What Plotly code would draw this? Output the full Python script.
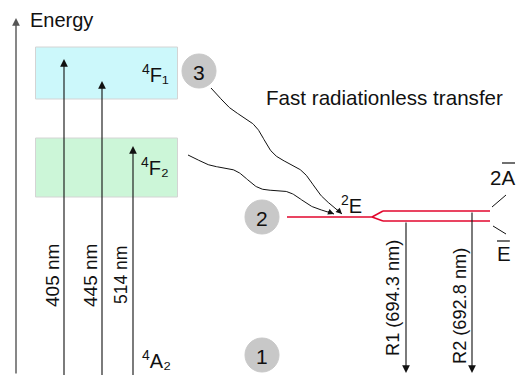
import numpy as np
import plotly.graph_objects as go

# ---- data (diagram coordinates in px-like units; y grows downward) ----
W, H = 516, 375
band_names = ["<sup>4</sup>F\u2081", "<sup>4</sup>F\u2082"]
band_x0 = [35.5, 35.5]
band_x1 = [177.5, 177.5]
band_y0 = [47, 138]
band_y1 = [99, 197]
band_fill = ["#ccf8fb", "#ccf6d8"]
band_label_x = [155, 155]
band_label_y = [73, 166]

pump_labels = ["405 nm", "445 nm", "514 nm"]
pump_x = [64, 102, 133]
pump_top = [59, 81, 146]
pump_label_x = [52, 90, 121]
pump_label_y = [276, 276, 275]
pump_font = [19, 19, 17.5]

level_nums = ["3", "2", "1"]
level_cx = [199, 262, 262]
level_cy = [71, 217, 355]

ground_label = "<sup>4</sup>A\u2082"
e_label = "<sup>2</sup>E"
e_y = 217
e_x0, e_fork, e_split, e_x1 = 287, 372, 383, 490
split_upper, split_lower = 211, 221

r_labels = ["R1 (694.3 nm)", "R2 (692.8 nm)"]
r_x = [406, 472]
r_top = [221, 211]
r_label_x = [393, 460]
r_label_y = [298, 306]

wave_start = [(211, 88), (188, 155)]
wave_end = [(342, 214), (334, 214)]

fig = go.Figure()
FONT = "Liberation Sans, Arial, sans-serif"

shapes = []
annotations = []

# level bands
for i in range(len(band_names)):
    shapes.append(dict(type="rect", x0=band_x0[i], x1=band_x1[i], y0=band_y0[i], y1=band_y1[i],
                       fillcolor=band_fill[i], line=dict(color="#d4d4d4", width=1), layer="below"))
    annotations.append(dict(x=band_label_x[i], y=band_label_y[i], text=band_names[i], showarrow=False,
                            font=dict(size=20, color="#111", family=FONT)))

# energy axis
annotations.append(dict(x=16, y=18, ax=16, ay=375, axref="x", ayref="y", xref="x", yref="y",
                        showarrow=True, arrowhead=2, arrowsize=1.1, arrowwidth=1.4, arrowcolor="#555", text=""))
annotations.append(dict(x=28, y=20, text="Energy", showarrow=False, xanchor="left",
                        font=dict(size=20, color="#111", family=FONT)))

# pump arrows
for i in range(len(pump_labels)):
    annotations.append(dict(x=pump_x[i], y=pump_top[i], ax=pump_x[i], ay=H + 2, axref="x", ayref="y",
                            showarrow=True, arrowhead=2, arrowsize=1.4, arrowwidth=1.1, arrowcolor="#111", text=""))
    annotations.append(dict(x=pump_label_x[i], y=pump_label_y[i], text=pump_labels[i], showarrow=False,
                            textangle=-90, font=dict(size=pump_font[i], color="#111", family=FONT)))

annotations.append(dict(x=156, y=359, text=ground_label, showarrow=False,
                        font=dict(size=20, color="#111", family=FONT)))

# numbered circles
for i in range(len(level_nums)):
    shapes.append(dict(type="circle", x0=level_cx[i] - 17, x1=level_cx[i] + 17,
                       y0=level_cy[i] - 17, y1=level_cy[i] + 17,
                       fillcolor="#c8c8c8", line=dict(color="#c8c8c8", width=1)))
    annotations.append(dict(x=level_cx[i], y=level_cy[i] + 1, text=level_nums[i], showarrow=False,
                            font=dict(size=21, color="#111", family=FONT)))

# 2E level and splitting
red = "#e2062c"
shapes.append(dict(type="line", x0=e_x0, x1=e_fork, y0=e_y, y1=e_y, line=dict(color=red, width=1.5)))
for ys in (split_upper, split_lower):
    shapes.append(dict(type="line", x0=e_fork, x1=e_split, y0=e_y, y1=ys, line=dict(color=red, width=1.5)))
    shapes.append(dict(type="line", x0=e_split, x1=e_x1, y0=ys, y1=ys, line=dict(color=red, width=1.5)))
annotations.append(dict(x=351, y=204, text=e_label, showarrow=False,
                        font=dict(size=20, color="#111", family=FONT)))

# sublevel labels
shapes.append(dict(type="line", x0=492, x1=506, y0=207, y1=195, line=dict(color="#111", width=1)))
shapes.append(dict(type="line", x0=493, x1=506, y0=226, y1=234, line=dict(color="#111", width=1)))
annotations.append(dict(x=502, y=177, text="2A", showarrow=False,
                        font=dict(size=20.5, color="#111", family=FONT)))
shapes.append(dict(type="line", x0=502, x1=515, y0=163, y1=163, line=dict(color="#111", width=1.2)))
annotations.append(dict(x=503.5, y=253, text="E", showarrow=False,
                        font=dict(size=20.5, color="#111", family=FONT)))
shapes.append(dict(type="line", x0=497, x1=510, y0=241, y1=241, line=dict(color="#111", width=1.2)))

# R lines
for i in range(len(r_labels)):
    annotations.append(dict(x=r_x[i], y=373, ax=r_x[i], ay=r_top[i], axref="x", ayref="y",
                            showarrow=True, arrowhead=2, arrowsize=1.4, arrowwidth=1.1, arrowcolor="#111", text=""))
    annotations.append(dict(x=r_label_x[i], y=r_label_y[i], text=r_labels[i], showarrow=False,
                            textangle=-90, font=dict(size=18.2, color="#111", family=FONT)))

annotations.append(dict(x=264, y=97, text="Fast radiationless transfer", showarrow=False, xanchor="left",
                        font=dict(size=20.6, color="#111", family=FONT)))

# wavy radiationless transfer lines
t = np.linspace(0, 1, 200)
for (sx, sy), (ex, ey) in zip(wave_start, wave_end):
    dx, dy = ex - sx, ey - sy
    L = np.hypot(dx, dy)
    px, py = -dy / L, dx / L
    amp = 4 * np.sin(np.pi * t)
    off = amp * np.sin(2 * np.pi * 2.5 * t)
    xs = sx + t * dx + px * off
    ys = sy + t * dy + py * off
    fig.add_trace(go.Scatter(x=xs, y=ys, mode="lines", line=dict(color="#111", width=1),
                             hoverinfo="skip", showlegend=False))
    annotations.append(dict(x=ex, y=ey, ax=ex - dx / L * 8, ay=ey - dy / L * 8, axref="x", ayref="y",
                            showarrow=True, arrowhead=2, arrowsize=1.2, arrowwidth=1, arrowcolor="#111", text=""))

fig.update_layout(
    width=W, height=H, margin=dict(l=0, r=0, t=0, b=0),
    paper_bgcolor="white", plot_bgcolor="white",
    xaxis=dict(range=[0, W], visible=False, fixedrange=True),
    yaxis=dict(range=[H, 0], visible=False, fixedrange=True),
    shapes=shapes, annotations=annotations, showlegend=False,
)
fig.write_html("out.html")
